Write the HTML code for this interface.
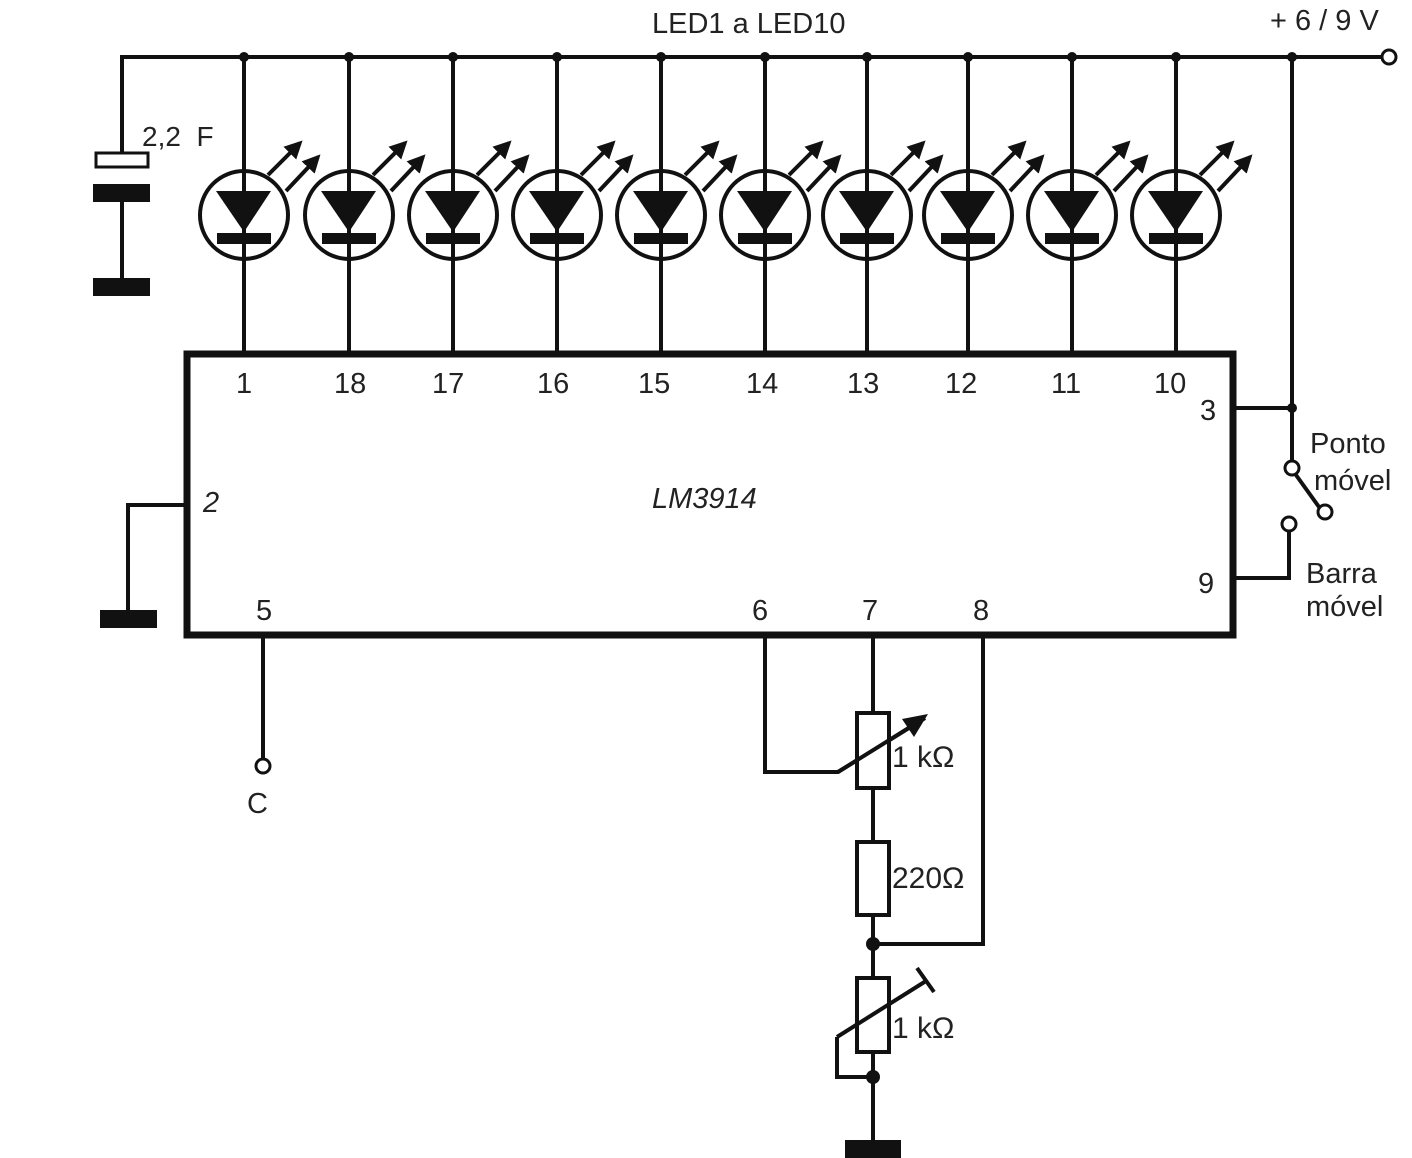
<!DOCTYPE html>
<html><head><meta charset="utf-8"><style>body{margin:0;background:#fff}svg{display:block}text{font-family:"Liberation Sans",sans-serif;fill:#222}</style></head><body>
<svg width="1412" height="1158" viewBox="0 0 1412 1158" xmlns="http://www.w3.org/2000/svg">
<defs>
<marker id="ah" viewBox="0 0 10 10" refX="8" refY="5" markerWidth="4.5" markerHeight="4.5" orient="auto"><path d="M0,0L10,5L0,10z" fill="#111"/></marker>
<g id="led">
<line x1="0" y1="0" x2="0" y2="297" stroke="#111" stroke-width="4"/>
<circle cx="0" cy="158" r="44" fill="none" stroke="#111" stroke-width="4"/>
<path d="M-28,134L27,134L0,175z" fill="#111"/>
<rect x="-27" y="176" width="54" height="11" fill="#111"/>
<line x1="24" y1="118" x2="56" y2="86" stroke="#111" stroke-width="4" marker-end="url(#ah)"/>
<line x1="42" y1="134" x2="74" y2="100" stroke="#111" stroke-width="4" marker-end="url(#ah)"/>
<circle cx="0" cy="0" r="5" fill="#111"/>
</g>
</defs>
<g stroke="#111" stroke-width="4" fill="none">
<polyline points="122,57 1382,57"/>
<line x1="122" y1="55" x2="122" y2="155"/>
<line x1="122" y1="198" x2="122" y2="280"/>
<circle cx="1389" cy="57" r="7" stroke-width="3"/>
</g>
<rect x="96" y="153" width="52" height="14" fill="#fff" stroke="#111" stroke-width="3"/>
<rect x="93" y="184" width="57" height="18" fill="#111"/>
<rect x="93" y="278" width="57" height="18" fill="#111"/>
<text x="142" y="146" font-size="28" xml:space="preserve">2,2  F</text>
<text x="652" y="33" font-size="29">LED1 a LED10</text>
<text x="1270" y="30" font-size="29">+ 6 / 9 V</text>
<use href="#led" x="244" y="57"/><use href="#led" x="349" y="57"/><use href="#led" x="453" y="57"/><use href="#led" x="557" y="57"/><use href="#led" x="661" y="57"/><use href="#led" x="765" y="57"/><use href="#led" x="867" y="57"/><use href="#led" x="968" y="57"/><use href="#led" x="1072" y="57"/><use href="#led" x="1176" y="57"/>
<circle cx="1292" cy="57" r="5" fill="#111"/>
<rect x="187" y="354" width="1046" height="281" fill="none" stroke="#111" stroke-width="7"/>
<g font-size="29">
<text x="236" y="393">1</text><text x="334" y="393">18</text><text x="432" y="393">17</text><text x="537" y="393">16</text><text x="638" y="393">15</text><text x="746" y="393">14</text><text x="847" y="393">13</text><text x="945" y="393">12</text><text x="1051" y="393">11</text><text x="1154" y="393">10</text>
<text x="1200" y="420">3</text><text x="1198" y="593">9</text>
<text x="203" y="512" font-style="italic">2</text>
<text x="256" y="620">5</text><text x="752" y="620">6</text><text x="862" y="620">7</text><text x="973" y="620">8</text>
<text x="652" y="508" font-style="italic">LM3914</text>
<text x="1310" y="453">Ponto</text><text x="1314" y="490">móvel</text>
<text x="1306" y="583">Barra</text><text x="1306" y="616">móvel</text>
<text x="247" y="813">C</text>
<text x="892" y="767" font-size="30">1 kΩ</text><text x="892" y="888" font-size="30">220Ω</text><text x="892" y="1038" font-size="30">1 kΩ</text>
</g>
<g stroke="#111" stroke-width="4" fill="none">
<polyline points="1292,57 1292,460"/>
<polyline points="1236,408 1292,408"/>
<line x1="1296" y1="475" x2="1319" y2="507"/>
<polyline points="1236,578 1289,578 1289,531"/>
<polyline points="185,505 128,505 128,612"/>
<line x1="263" y1="637" x2="263" y2="759"/>
<polyline points="765,637 765,772 838,772 925,718"/>
<line x1="873" y1="637" x2="873" y2="1140"/>
<polyline points="983,637 983,944 873,944"/>
<polyline points="837,1037 837,1077 873,1077"/>
</g>
<g stroke="#111" stroke-width="3" fill="#fff">
<circle cx="1292" cy="468" r="7"/>
<circle cx="1289" cy="524" r="7"/>
<circle cx="1325" cy="512" r="7"/>
<circle cx="263" cy="766" r="7"/>
</g>
<circle cx="1292" cy="408" r="5" fill="#111"/>
<rect x="857" y="713" width="32" height="75" fill="#fff" stroke="#111" stroke-width="4"/>
<line x1="838" y1="772" x2="915" y2="724" stroke="#111" stroke-width="4"/>
<path d="M928,714L902,719L914,737z" fill="#111"/>
<rect x="857" y="842" width="32" height="73" fill="#fff" stroke="#111" stroke-width="4"/>
<rect x="857" y="978" width="32" height="74" fill="#fff" stroke="#111" stroke-width="4"/>
<line x1="837" y1="1037" x2="926" y2="981" stroke="#111" stroke-width="4"/>
<line x1="917" y1="968" x2="934" y2="992" stroke="#111" stroke-width="4"/>
<circle cx="873" cy="944" r="7" fill="#111"/>
<circle cx="873" cy="1077" r="7" fill="#111"/>
<rect x="100" y="610" width="57" height="18" fill="#111"/>
<rect x="845" y="1140" width="56" height="18" fill="#111"/>
</svg>
</body></html>
